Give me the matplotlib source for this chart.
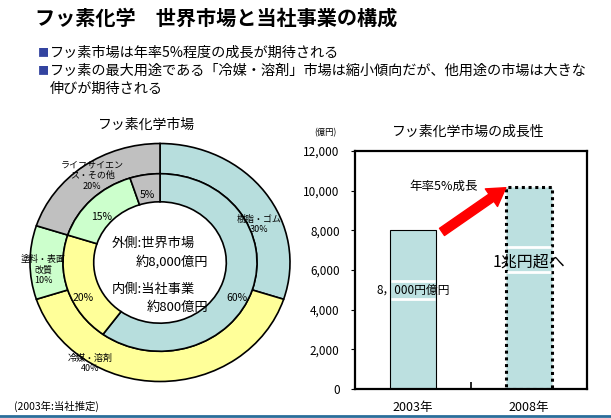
import matplotlib
matplotlib.use("Agg")
import matplotlib.pyplot as plt

plt.rcParams['font.family'] = ['Noto Sans CJK JP', 'DejaVu Sans']

# donut data (clockwise from 12 o'clock)
outer_labels = ['樹脂・ゴム\n30%', '冷媒・溶剤\n40%', '塗料・表面\n改質\n10%', 'ライフサイエン\nス・その他\n20%']
outer_share = [30, 40, 10, 20]
inner_labels = ['60%', '20%', '15%', '5%']
inner_share = [60, 20, 15, 5]
seg_colors = ['#B7DEDD', '#FFFF99', '#CCFFCC', '#C0C0C0']

# bar data
years = ['2003年', '2008年']
market = [8000, 10200]
bar_notes = ['8，000円億円', '1兆円超へ']
yticks = [0, 2000, 4000, 6000, 8000, 10000, 12000]

W, H = 611, 418
fig = plt.figure(figsize=(W / 100, H / 100), dpi=100)
fig.patch.set_facecolor('white')

def fx(px):
    return px / W

def fy(py):
    return 1 - py / H

# header
fig.text(fx(35), fy(18), 'フッ素化学\u3000世界市場と当社事業の構成', fontsize=14.5,
         va='center', ha='left', weight='bold')
fig.text(fx(38), fy(53), '■', color='#3344A0', fontsize=8, va='center')
fig.text(fx(50), fy(53), 'フッ素市場は年率5%程度の成長が期待される', fontsize=10.2, va='center')
fig.text(fx(38), fy(71), '■', color='#3344A0', fontsize=8, va='center')
fig.text(fx(50), fy(71), 'フッ素の最大用途である「冷媒・溶剤」市場は縮小傾向だが、他用途の市場は大きな',
         fontsize=10.2, va='center')
fig.text(fx(50), fy(89), '伸びが期待される', fontsize=10.2, va='center')

# footer
fig.text(fx(14), fy(406), '(2003年:当社推定)', fontsize=7.5, va='center')
fig.add_artist(plt.Line2D([0, 1], [fy(416), fy(416)], color='#2A6E9A', lw=2))

# ---- donut ----
ax1 = fig.add_axes([fx(30), fy(381.5), fx(260), 238 / H])
wp = dict(edgecolor='black', linewidth=1.2)
ax1.pie(outer_share, radius=1.0, colors=seg_colors, startangle=90, counterclock=False,
        wedgeprops=dict(width=0.254, **wp))
ax1.pie(inner_share, radius=0.746, colors=seg_colors, startangle=90, counterclock=False,
        wedgeprops=dict(width=0.236, **wp))
ax1.set_aspect('auto')
ax1.set_xlim(-1, 1)
ax1.set_ylim(-1, 1)
ax1.axis('off')

outer_pos = [(0.76, 0.32), (-0.54, -0.85), (-0.9, -0.06), (-0.52, 0.73)]
for lab, (x, y) in zip(outer_labels, outer_pos):
    ax1.text(x, y, lab, fontsize=6.5, ha='center', va='center', linespacing=1.2)
inner_pos = [(0.59, -0.30), (-0.59, -0.30), (-0.45, 0.38), (-0.10, 0.57)]
for lab, (x, y) in zip(inner_labels, inner_pos):
    ax1.text(x, y, lab, fontsize=7.5, ha='center', va='center')

ax1.text(-0.37, 0.16, '外側:世界市場', fontsize=9.5, ha='left', va='center')
ax1.text(0.37, 0.01, '約8,000億円', fontsize=9.5, ha='right', va='center')
ax1.text(-0.37, -0.23, '内側:当社事業', fontsize=9.5, ha='left', va='center')
ax1.text(0.37, -0.38, '約800億円', fontsize=9.5, ha='right', va='center')

fig.text(fx(147), fy(125), 'フッ素化学市場', fontsize=10, ha='center', va='center')

# ---- bar chart ----
ax2 = fig.add_axes([fx(355), fy(389), fx(232), 238 / H])
xpos = list(range(len(years)))
bw = 0.4
bars = ax2.bar(xpos, market, width=bw, color='#BCE0E0', edgecolor='black', linewidth=0.8)
bars[1].set_linestyle((0, (1, 1.2)))
bars[1].set_linewidth(2.2)
ax2.set_xlim(-0.5, 1.5)
ax2.set_ylim(0, 12000)
ax2.set_yticks(yticks)
ax2.set_yticklabels([f'{v:,}' for v in yticks], fontsize=8.5)
ax2.set_xticks(xpos)
ax2.set_xticklabels(years, fontsize=9)
ax2.tick_params(axis='x', length=0, pad=9)
ax2.set_xticks([0.5], minor=True)
ax2.tick_params(axis='x', which='minor', direction='in', length=5, width=1.2)
ax2.tick_params(axis='y', direction='out', length=3, pad=8)
for s in ax2.spines.values():
    s.set_linewidth(1.6)

# labels inside the bars, with thin white strips above and below
text_mid = [0.62, 0.625]
strip_mid = [0.625, 0.64]
strip_half = [0.056, 0.062]
note_fs = [8.5, 11.5]
for x, v, note, tm, sm, hh, fs in zip(xpos, market, bar_notes, text_mid, strip_mid, strip_half, note_fs):
    ax2.text(x, v * tm, note, fontsize=fs, ha='center', va='center', zorder=4)
    ax2.hlines([v * (sm + hh), v * (sm - hh)], x - bw / 2 + 0.01, x + bw / 2 - 0.01,
               colors='white', lw=2, zorder=3)

ax2.text(0.26, market[1], '年率5%成長', fontsize=9, ha='center', va='center')
ax2.annotate('', xy=(xpos[1] - 0.2, market[1] * 0.995), xytext=(xpos[0] + 0.25, market[0] * 0.99),
             arrowprops=dict(arrowstyle='simple,head_length=0.9,head_width=1.1,tail_width=0.45',
                             color='#FF0000', mutation_scale=14, shrinkA=0, shrinkB=0))

fig.text(fx(468), fy(132), 'フッ素化学市場の成長性', fontsize=10, ha='center', va='center')
fig.text(fx(325), fy(133), '(億円)', fontsize=6, ha='center', va='center')

fig.savefig('out.png', dpi=100, facecolor='white')
